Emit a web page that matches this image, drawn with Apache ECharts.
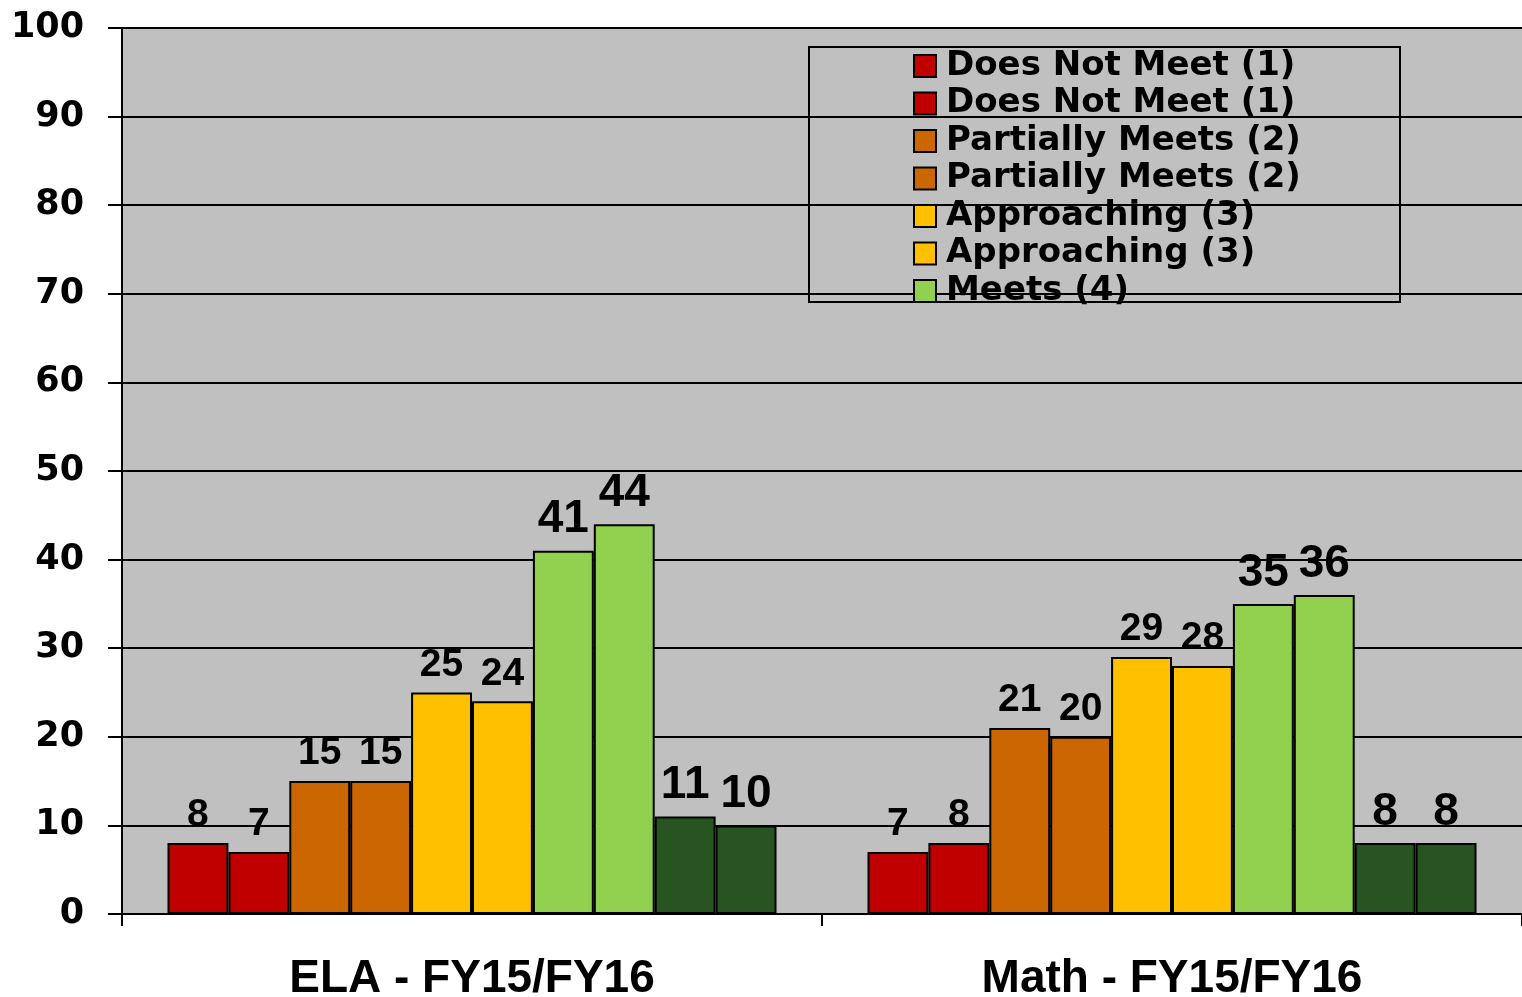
<!DOCTYPE html>
<html>
<head>
<meta charset="utf-8">
<script src="https://cdn.jsdelivr.net/npm/echarts@6/dist/echarts.min.js"></script>
<style>
  html, body { margin: 0; padding: 0; background: #fff; }
  #main { width: 1522px; height: 997px; }
</style>
</head>
<body>
<div id="main"></div>
<script>
// categories on the x axis
const categories = ['ELA - FY15/FY16', 'Math - FY15/FY16']
// one bar per level and year (FY15, FY16)
const levels = ['Does Not Meet (1)', 'Does Not Meet (1)', 'Partially Meets (2)', 'Partially Meets (2)',
  'Approaching (3)', 'Approaching (3)', 'Meets (4)', 'Meets (4)', 'Exceeds (5)', 'Exceeds (5)']
const elaValues = [8, 7, 15, 15, 25, 24, 41, 44, 11, 10]
const mathValues = [7, 8, 21, 20, 29, 28, 35, 36, 8, 8]
const yTicks = [0, 10, 20, 30, 40, 50, 60, 70, 80, 90, 100]
// the legend box in the original only shows the first 7 entries
const legendCount = 7

const colors = ['#c00000', '#c00000', '#cc6600', '#cc6600', '#ffc000', '#ffc000', '#92d050', '#92d050', '#275421', '#275421']

let mychart = echarts.init(document.getElementById('main'))

const keys = levels.map((l, i) => 'lvl' + i)

const series = levels.map((l, i) => ({
  name: keys[i],
  type: 'bar',
  barGap: '0%',
  barCategoryGap: '13%',
  data: [elaValues[i], mathValues[i]],
  itemStyle: {
    color: colors[i],
    borderColor: '#000',
    borderWidth: 2,
  },
  label: {
    show: true,
    position: 'top',
    distance: 8,
    color: '#000',
    fontFamily: 'Liberation Sans Narrow, Liberation Sans, sans-serif',
    fontWeight: 'bold',
    // green bars have bigger labels in the original
    fontSize: i >= 6 ? 46 : 39,
  },
}))

var option = {
  animation: false,
  backgroundColor: '#fff',
  grid: {
    left: 122,
    right: 0,
    top: 28,
    bottom: 83,
    outerBoundsMode: 'none',
    show: true,
    backgroundColor: '#c0c0c0',
    borderWidth: 0,
  },
  legend: {
    data: keys.slice(0, legendCount),
    orient: 'vertical',
    left: 913,
    top: 49,
    padding: 0,
    itemGap: 3.5,
    itemWidth: 22,
    itemHeight: 22,
    icon: 'rect',
    selectedMode: false,
    formatter: (name) => levels[keys.indexOf(name)],
    textStyle: {
      fontFamily: 'DejaVu Sans',
      fontWeight: 'bold',
      fontSize: 34,
      color: '#000',
      padding: [0, 0, 0, 5],
    },
  },
  graphic: [
    {
      type: 'rect',
      shape: { x: 809, y: 47, width: 591, height: 255 },
      style: { fill: 'none', stroke: '#000', lineWidth: 2 },
      z: 100,
    },
  ],
  xAxis: {
    type: 'category',
    data: categories,
    axisLine: { lineStyle: { color: '#000', width: 2 } },
    axisTick: { show: true, length: 12, lineStyle: { color: '#000', width: 2 } },
    axisLabel: {
      margin: 42,
      color: '#000',
      fontFamily: 'Liberation Sans Narrow, Liberation Sans, sans-serif',
      fontWeight: 'bold',
      fontSize: 46,
    },
  },
  yAxis: {
    type: 'value',
    min: yTicks[0],
    max: yTicks[yTicks.length - 1],
    interval: 10,
    axisLine: { show: true, lineStyle: { color: '#000', width: 2 } },
    axisTick: { show: true, length: 14, lineStyle: { color: '#000', width: 2 } },
    splitLine: { lineStyle: { color: '#000', width: 2 } },
    axisLabel: {
      margin: 38,
      color: '#000',
      fontFamily: 'DejaVu Sans',
      fontWeight: 'bold',
      fontSize: 35,
    },
  },
  series: series,
}

mychart.setOption(option)
</script>
</body>
</html>
